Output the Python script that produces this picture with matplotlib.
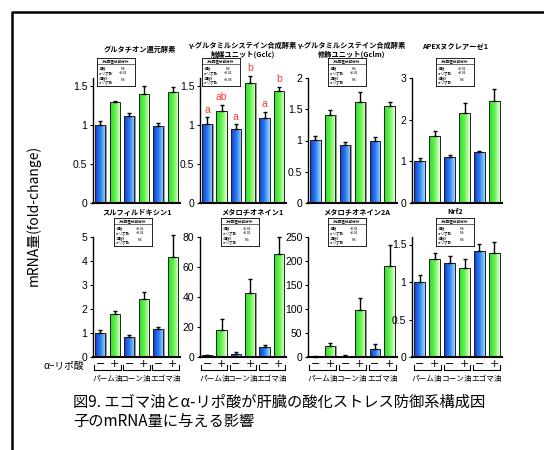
import numpy as np
import matplotlib.pyplot as plt
from matplotlib.colors import LinearSegmentedColormap
from matplotlib.lines import Line2D

plt.rcParams['font.family'] = ['Noto Sans CJK JP', 'DejaVu Sans']

W, H = 544, 450

# mean fold-change and SE, order: palm -/+, corn -/+, egoma -/+
titles = ['グルタチオン還元酵素',
          'γ-グルタミルシステイン合成酵素\n触媒ユニット(Gclc)',
          'γ-グルタミルシステイン合成酵素\n修飾ユニット(Gclm)',
          'APEXヌクレアーゼ1',
          'スルフィルドキシン1', 'メタロチオネイン1', 'メタロチオネイン2A', 'Nrf2']
means = [
    [1.00, 1.29, 1.11, 1.40, 0.98, 1.42],
    [1.01, 1.18, 0.95, 1.53, 1.09, 1.43],
    [1.01, 1.41, 0.93, 1.62, 1.00, 1.55],
    [1.02, 1.61, 1.10, 2.17, 1.23, 2.44],
    [0.99, 1.79, 0.85, 2.42, 1.17, 4.15],
    [1.1, 18.0, 2.3, 42.8, 6.8, 68.7],
    [1.0, 23.0, 2.5, 98.0, 16.0, 189.0],
    [1.00, 1.31, 1.26, 1.19, 1.42, 1.39],
]
errs = [
    [0.05, 0.02, 0.04, 0.10, 0.04, 0.06],
    [0.09, 0.08, 0.06, 0.10, 0.08, 0.06],
    [0.06, 0.08, 0.04, 0.15, 0.05, 0.07],
    [0.06, 0.11, 0.06, 0.23, 0.03, 0.29],
    [0.14, 0.14, 0.08, 0.30, 0.10, 0.92],
    [0.5, 7.5, 0.9, 9.2, 0.9, 11.3],
    [0.6, 6.0, 1.0, 25.0, 11.0, 45.0],
    [0.10, 0.08, 0.09, 0.12, 0.09, 0.14],
]
ylims = [1.6, 1.6, 2, 3, 5, 80, 250, 1.6]
yticks = [[0, 0.5, 1, 1.5], [0, 0.5, 1, 1.5], [0, 0.5, 1, 1.5, 2], [0, 1, 2, 3],
          [0, 1, 2, 3, 4, 5], [0, 20, 40, 60, 80], [0, 50, 100, 150, 200, 250],
          [0, 0.5, 1, 1.5]]
gclc_letters = ['a', 'ab', 'a', 'b', 'a', 'b']

# two-way ANOVA p-values: oil, lipoic acid, interaction
anova = [
    ['NS', '<0.01', 'NS'], ['NS', '<0.01', '<0.05'], ['NS', '<0.01', 'NS'],
    ['<0.01', '<0.01', 'NS'], ['<0.01', '<0.01', 'NS'], ['<0.01', '<0.01', 'NS'],
    ['<0.01', '<0.01', 'NS'], ['NS', 'NS', 'NS'],
]
oils = ['パーム油', 'コーン油', 'エゴマ油']
lipoic = ['−', '+']

blue_cm = LinearSegmentedColormap.from_list('b', ['#1238d0', '#2a7ef0', '#9ad8ff'])
green_cm = LinearSegmentedColormap.from_list('g', ['#22e022', '#66f050', '#e6ffd8'])


def px(x0, y0, x1, y1):
    return [x0 / W, 1 - y1 / H, (x1 - x0) / W, (y1 - y0) / H]


cols = [(93, 180), (200, 286), (308, 397), (412, 502)]
rows = [(78, 203), (237, 357)]
box_dx = [4, 2, 20, 24, 21, 21, 20, 24]
title_pos = [(140, 49), (243, 50), (352, 50), (455, 46),
             (137, 212), (252, 212), (357, 212), (455, 212)]

fig = plt.figure(figsize=(W / 100, H / 100), dpi=100)

for i in range(8):
    r, c = divmod(i, 4)
    x0, x1 = cols[c]
    y0, y1 = rows[r]
    ax = fig.add_axes(px(x0, y0, x1, y1))
    m = np.array(means[i])
    e = np.array(errs[i])
    xs = np.arange(6)
    w = 0.7
    for j in xs:
        cm = blue_cm if j % 2 == 0 else green_cm
        ax.bar(j + 0.1, m[j], w, color='#9a9a9a', zorder=1)
        bar = ax.bar(j, m[j], w, facecolor='none', edgecolor='#222222', lw=0.7, zorder=3)[0]
        grad = np.linspace(0, 1, 50).reshape(1, -1)
        im = ax.imshow(grad, extent=[j - w / 2, j + w / 2, 0, m[j]], aspect='auto',
                       cmap=cm, zorder=2, origin='lower')
        im.set_clip_path(bar)
        ax.errorbar(j, m[j], yerr=[[0], [e[j]]], fmt='none', ecolor='black',
                    elinewidth=1.0, capsize=1.5, capthick=1.0, zorder=4, clip_on=False)
        if i == 1:
            ax.text(j, m[j] + e[j] + 0.03, gclc_letters[j], color='#ff3a3a',
                    ha='center', va='bottom', fontsize=7.5, family='Liberation Sans')
    ax.set_xlim(-0.5, 5.5)
    ax.set_ylim(0, ylims[i])
    ax.set_yticks(yticks[i])
    ax.set_yticklabels([f'{t:g}' for t in yticks[i]], family='Liberation Sans')
    ax.tick_params(axis='y', labelsize=7.5, length=2, width=0.8, pad=2)
    ax.set_xticks([])
    for s in ['top', 'right']:
        ax.spines[s].set_visible(False)
    ax.spines['left'].set_linewidth(1.0)
    ax.spines['bottom'].set_linewidth(1.5)

    tx, ty = title_pos[i]
    fig.text(tx / W, 1 - ty / H, titles[i], ha='center', va='center',
             fontsize=5.2, fontweight='bold', linespacing=1.3)

    # ANOVA summary box
    bx = x0 + box_dx[i]
    by = y0 - 20 if r == 0 else y0 - 19
    bax = fig.add_axes(px(bx, by, bx + 38, by + 28))
    bax.set_xticks([]); bax.set_yticks([])
    bax.set_xlim(0, 1); bax.set_ylim(0, 1)
    for s in bax.spines.values():
        s.set_linewidth(0.6)
    bax.text(0.5, 0.9, '2元配置分散分析', ha='center', va='center', fontsize=2.6)
    bax.add_line(Line2D([0, 1], [0.8, 0.8], lw=0.4, color='black'))
    labs = ['油脂', 'α-リポ酸', '油脂X\nα-リポ酸']
    for k, yy in enumerate([0.62, 0.45, 0.2]):
        bax.text(0.05, yy, labs[k], ha='left', va='center', fontsize=2.6, linespacing=1.1)
        bax.text(0.68, yy, anova[i][k], ha='center', va='center', fontsize=2.6)

    if r == 1:
        tr = ax.get_xaxis_transform()
        for j in xs:
            ax.text(j, -0.06, lipoic[j % 2], transform=tr, ha='center', va='center',
                    fontsize=8, family='DejaVu Sans', clip_on=False)
        for g in range(3):
            a, b = 2 * g - 0.4, 2 * g + 1.4
            ax.add_line(Line2D([a, a, b, b], [-0.07, -0.11, -0.11, -0.07], transform=tr,
                               color='black', lw=0.8, clip_on=False))
            ax.text(2 * g + 0.5, -0.18, oils[g], transform=tr, ha='center', va='center',
                    fontsize=5.5, clip_on=False)

fig.text(84 / W, 1 - 366 / H, 'α−リポ酸', ha='right', va='center', fontsize=7)
fig.text(33 / W, 1 - 215 / H, 'mRNA量(fold-change)', rotation=90, ha='center',
         va='center', fontsize=10)
fig.text(73 / W, 1 - 412 / H,
         '図9. エゴマ油とα-リポ酸が肝臓の酸化ストレス防御系構成因\n子のmRNA量に与える影響',
         ha='left', va='center', fontsize=11, linespacing=1.2)

# outer frame
fig.add_artist(Line2D([12 / W, 12 / W, 1.0], [0, 1 - 12 / H, 1 - 12 / H],
                      transform=fig.transFigure, color='black', lw=1.8))

fig.savefig('out.png', dpi=100)
